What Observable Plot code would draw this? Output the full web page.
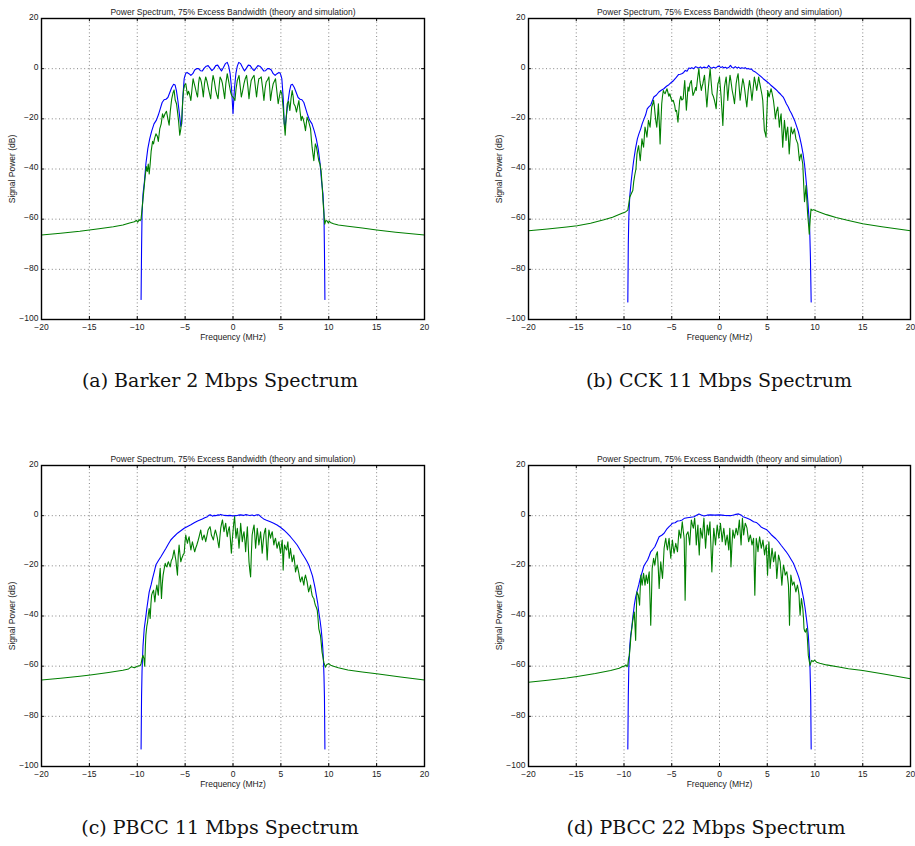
<!DOCTYPE html>
<html>
<head>
<meta charset="utf-8">
<script src="https://cdn.jsdelivr.net/npm/d3@7"></script>
<script src="https://cdn.jsdelivr.net/npm/@observablehq/plot@0.6"></script>
<style>
  html, body { margin: 0; padding: 0; background: #fff; }
  #page { position: relative; width: 915px; height: 846px; overflow: hidden; background: #fff; }
  .panel { position: absolute; }
  .caption { position: absolute; width: 420px; text-align: center; font-family: "DejaVu Serif", serif; font-size: 19px; line-height: 19px; color: #111; white-space: nowrap; }
</style>
</head>
<body>
<div id="page"></div>
<script>
// ---------- shared axis data ----------
const xTicks = [-20, -15, -10, -5, 0, 5, 10, 15, 20];
const yTicks = [-100, -80, -60, -40, -20, 0, 20];
const xDomain = [-20, 20];
const yDomain = [-100, 20];
const plotTitle = "Power Spectrum, 75% Excess Bandwidth (theory and simulation)";
const xLabel = "Frequency (MHz)";
const yLabel = "Signal Power (dB)";
const captions = ["(a) Barker 2 Mbps Spectrum", "(b) CCK 11 Mbps Spectrum", "(c) PBCC 11 Mbps Spectrum", "(d) PBCC 22 Mbps Spectrum"];

// ---------- (a) Barker 2 Mbps : [frequency MHz, dB] ----------
const barkerTheory = [[-9.6,-92],[-9.55,-72],[-9.5,-58],[-9.4,-50],[-9.25,-45],[-9.1,-38],[-8.9,-32],[-8.7,-28],[-8.5,-25],[-8.25,-22],[-8.0,-20.5],[-7.8,-18.5],[-7.6,-16],[-7.4,-13.5],[-7.2,-12.4],[-7.0,-12.2],[-6.8,-11.5],[-6.6,-9.5],[-6.4,-7.5],[-6.2,-6.2],[-6.05,-6.5],[-5.9,-9],[-5.75,-13],[-5.6,-18],[-5.45,-23],[-5.35,-22],[-5.25,-12],[-5.1,-4],[-4.95,-2],[-4.8,-1.5],[-4.6,-2],[-4.4,-2.7],[-4.2,-2],[-4.0,-0.5],[-3.8,0],[-3.6,0],[-3.4,-0.8],[-3.2,-0.9],[-3.0,0.2],[-2.8,1.0],[-2.6,1.2],[-2.4,0.2],[-2.2,-0.8],[-2.0,0],[-1.8,1.2],[-1.6,1.4],[-1.4,0.2],[-1.2,-0.9],[-1.0,0.5],[-0.8,2.0],[-0.6,2.5],[-0.45,1.0],[-0.3,-2],[-0.15,-8],[0,-18],[0.15,-8],[0.3,-2],[0.45,1.0],[0.6,2.5],[0.8,2.0],[1.0,0.5],[1.2,-0.9],[1.4,0.2],[1.6,1.4],[1.8,1.2],[2.0,0],[2.2,-0.8],[2.4,0.2],[2.6,1.2],[2.8,1.0],[3.0,0.2],[3.2,-0.9],[3.4,-0.8],[3.6,0],[3.8,0],[4.0,-0.5],[4.2,-2],[4.4,-2.7],[4.6,-2],[4.8,-1.5],[4.95,-2],[5.1,-4],[5.25,-12],[5.35,-22],[5.45,-23],[5.6,-18],[5.75,-13],[5.9,-9],[6.05,-6.5],[6.2,-6.2],[6.4,-7.5],[6.6,-9.5],[6.8,-11.5],[7.0,-12.2],[7.2,-12.4],[7.4,-13.5],[7.6,-16],[7.8,-18.5],[8.0,-20.5],[8.25,-22],[8.5,-25],[8.7,-28],[8.9,-32],[9.1,-38],[9.25,-45],[9.4,-50],[9.5,-58],[9.55,-72],[9.6,-92]];
const barkerSim = [[-20,-66.3],[-18,-65.6],[-16,-64.8],[-14,-63.8],[-12.5,-63],[-11.5,-62.3],[-10.8,-61.5],[-10.3,-61],[-10.1,-60.5],[-9.95,-61.2],[-9.8,-60.2],[-9.7,-60.6],[-9.6,-60],[-9.5,-56],[-9.35,-50],[-9.2,-44],[-9.05,-39],[-8.95,-41],[-8.85,-38],[-8.75,-42],[-8.65,-38],[-8.55,-33],[-8.4,-29],[-8.3,-30],[-8.2,-28],[-8.05,-26],[-7.9,-27],[-7.8,-29],[-7.65,-24],[-7.5,-22],[-7.36,-18],[-7.25,-19.5],[-7.1,-18],[-6.95,-17],[-6.8,-20],[-6.67,-22.5],[-6.55,-17],[-6.4,-12],[-6.25,-9.5],[-6.15,-8.5],[-6.04,-12.5],[-5.9,-14],[-5.8,-17],[-5.68,-21],[-5.56,-26.5],[-5.45,-24],[-5.35,-20],[-5.25,-13],[-5.17,-8.7],[-5.05,-6.5],[-4.93,-6],[-4.85,-8],[-4.76,-10.5],[-4.65,-9],[-4.55,-10],[-4.4,-12.7],[-4.28,-8],[-4.17,-4],[-4.05,-6],[-3.95,-7.5],[-3.8,-10],[-3.7,-11.3],[-3.6,-6],[-3.5,-3.3],[-3.4,-4],[-3.3,-5.5],[-3.2,-8],[-3.1,-11.3],[-2.98,-6],[-2.85,-3.3],[-2.72,-5],[-2.6,-7.3],[-2.45,-10],[-2.33,-12],[-2.2,-6],[-2.08,-2.7],[-1.95,-5],[-1.8,-8.7],[-1.68,-10.5],[-1.56,-12],[-1.45,-7],[-1.35,-3.3],[-1.2,-4.5],[-1.1,-6],[-0.98,-9],[-0.87,-12],[-0.75,-6],[-0.6,-2],[-0.48,-4.5],[-0.35,-7.3],[-0.24,-9.5],[-0.14,-10.7],[0,-11.3],[0.12,-12],[0.2,-12.7],[0.32,-8],[0.45,-4.7],[0.63,-2.7],[0.75,-7],[0.87,-11.3],[1.0,-9],[1.15,-6],[1.28,-4],[1.42,-2.7],[1.55,-7],[1.67,-12],[1.78,-8],[1.9,-4.7],[2.05,-3.5],[2.2,-2.7],[2.33,-7],[2.46,-11.3],[2.58,-7],[2.7,-4],[2.82,-3.8],[2.95,-3.3],[3.1,-8],[3.23,-12.7],[3.35,-8],[3.47,-5.3],[3.6,-4.5],[3.75,-3.3],[3.82,-7],[3.92,-12.7],[4.05,-9],[4.2,-6],[4.32,-5],[4.44,-4],[4.58,-9],[4.72,-14],[4.85,-11],[4.97,-8.7],[5.1,-10],[5.25,-16],[5.35,-22],[5.45,-26.5],[5.55,-20],[5.66,-14],[5.8,-13],[5.94,-16.7],[6.06,-12],[6.18,-8.7],[6.28,-11],[6.35,-14],[6.5,-15],[6.63,-17.3],[6.75,-15],[6.88,-12.7],[7.0,-17],[7.12,-20.7],[7.22,-19],[7.33,-20],[7.45,-22],[7.57,-24.7],[7.65,-22],[7.74,-19.3],[7.9,-21],[8.0,-22.5],[8.1,-24],[8.18,-28],[8.26,-31.3],[8.35,-34],[8.44,-36.7],[8.52,-33],[8.6,-30],[8.7,-31],[8.78,-32.7],[8.88,-35],[8.96,-36.7],[9.08,-38],[9.2,-40.7],[9.3,-46],[9.4,-52.7],[9.5,-58],[9.58,-62],[9.7,-60.5],[9.83,-60.7],[9.95,-61.5],[10.05,-60.8],[10.17,-61.3],[10.5,-61.8],[11,-62.3],[12,-62.8],[13.5,-63.5],[15,-64.3],[17,-65.2],[20,-66.3]];

// ---------- (b) CCK 11 Mbps ----------
const cckTheory = [[-9.6,-93],[-9.55,-70],[-9.5,-60],[-9.4,-51],[-9.25,-45],[-9.13,-41],[-9.0,-37],[-8.8,-32],[-8.6,-28],[-8.44,-26],[-8.25,-24],[-8.1,-22],[-7.9,-20],[-7.74,-18.5],[-7.57,-16],[-7.4,-15.2],[-7.2,-14.5],[-7.0,-12.5],[-6.88,-11.3],[-6.6,-10.5],[-6.35,-9.3],[-6.1,-8.6],[-5.83,-8],[-5.55,-7],[-5.3,-6.4],[-5.05,-5.5],[-4.8,-4.7],[-4.55,-3.6],[-4.27,-2.3],[-4.1,-2.2],[-3.9,-1.9],[-3.75,-1.5],[-3.58,-0.7],[-3.4,-1.0],[-3.2,0.3],[-3.05,0.1],[-2.9,0.4],[-2.7,0.0],[-2.5,0.8],[-2.3,0.5],[-2.15,0.3],[-2.0,0.7],[-1.85,0.2],[-1.65,0.6],[-1.5,0.5],[-1.3,0.3],[-1.15,1.3],[-1.0,0.6],[-0.85,0.2],[-0.6,0.6],[-0.45,0.3],[-0.3,0.5],[-0.15,1.0],[0,0.9],[0.15,0.4],[0.3,0.8],[0.45,0.3],[0.6,0.6],[0.8,0.2],[1.0,0.6],[1.15,1.3],[1.3,0.5],[1.5,0.3],[1.65,0.8],[1.85,0.2],[2.0,0.6],[2.15,0.1],[2.35,0.4],[2.5,0.2],[2.7,0.4],[2.85,-0.1],[3.0,0.1],[3.2,-0.2],[3.35,-0.2],[3.5,-0.8],[3.7,-1.2],[3.9,-1.8],[4.06,-2.3],[4.3,-3],[4.58,-4],[4.85,-4.8],[5.1,-5.6],[5.35,-6.5],[5.6,-7.3],[5.9,-8.3],[6.15,-9.3],[6.4,-10.2],[6.67,-11.3],[6.85,-12.7],[7.0,-14],[7.2,-15.3],[7.36,-16.7],[7.55,-18],[7.7,-19.3],[7.9,-21],[8.05,-22.7],[8.25,-25],[8.4,-27.3],[8.58,-30.5],[8.75,-34],[8.9,-38],[9.03,-43],[9.15,-48],[9.27,-54],[9.38,-60],[9.45,-65],[9.52,-75],[9.6,-93]];
const cckSim = [[-20,-64.6],[-18,-63.9],[-16,-63.1],[-14.9,-62.6],[-13.5,-61.6],[-12.1,-60.2],[-11.2,-59.2],[-10.7,-58.4],[-10.2,-57.6],[-9.84,-57.1],[-9.6,-56.4],[-9.5,-54],[-9.4,-51.3],[-9.25,-50],[-9.08,-48.6],[-8.98,-45],[-8.88,-42.6],[-8.75,-40],[-8.64,-34],[-8.55,-32],[-8.47,-30.7],[-8.38,-34],[-8.3,-36.7],[-8.2,-32],[-8.12,-28],[-8.03,-30],[-7.95,-31.3],[-7.87,-27],[-7.8,-23.3],[-7.7,-25],[-7.6,-27.3],[-7.52,-24],[-7.44,-20.6],[-7.35,-22],[-7.27,-23.3],[-7.18,-19],[-7.1,-15.3],[-6.98,-14],[-6.9,-12.6],[-6.82,-15],[-6.75,-18],[-6.66,-21],[-6.57,-23.3],[-6.48,-19],[-6.4,-14],[-6.3,-22],[-6.22,-30],[-6.14,-22],[-6.05,-14],[-5.97,-11],[-5.88,-8.7],[-5.8,-9.5],[-5.7,-10],[-5.6,-9],[-5.5,-8],[-5.4,-9.5],[-5.3,-11],[-5.2,-10],[-5.1,-11.5],[-4.97,-13],[-4.85,-12.6],[-4.7,-14.5],[-4.6,-17],[-4.5,-16.6],[-4.42,-19],[-4.35,-21.3],[-4.26,-17],[-4.17,-12.7],[-4.05,-11],[-3.95,-12.5],[-3.8,-12],[-3.72,-8],[-3.64,-4.7],[-3.55,-11],[-3.47,-16.6],[-3.38,-12],[-3.3,-7.3],[-3.2,-9],[-3.1,-6],[-2.95,-4.7],[-2.86,-8],[-2.78,-10.7],[-2.6,-9],[-2.5,-7.5],[-2.43,-8.7],[-2.3,-4],[-2.16,0],[-2.05,-5],[-1.9,-8.7],[-1.82,-7],[-1.74,-6],[-1.65,-4],[-1.57,-2.6],[-1.45,-9],[-1.32,-15.3],[-1.2,-9],[-1.1,-4.7],[-0.98,0],[-0.88,-5],[-0.77,-10],[-0.65,-11],[-0.53,-12.6],[-0.45,-14],[-0.35,-16],[-0.26,-10],[-0.17,-6],[-0.08,-5],[0,-3.3],[0.08,-7],[0.17,-11.3],[0.26,-17],[0.35,-22.6],[0.44,-14],[0.52,-7.3],[0.62,-5],[0.7,-3.3],[0.79,-8],[0.87,-12.7],[0.98,-7],[1.1,-2.6],[1.2,-5],[1.33,-8.7],[1.45,-11],[1.57,-14],[1.66,-10],[1.74,-6],[1.85,-3.5],[1.95,-2],[2.05,-7],[2.16,-12.6],[2.3,-8],[2.44,-4],[2.55,-6],[2.65,-8.7],[2.75,-12],[2.86,-15.3],[3.0,-9],[3.14,-4.7],[3.27,-8],[3.4,-12.7],[3.52,-8],[3.65,-3.3],[3.78,-6],[3.9,-8.7],[4.0,-6],[4.1,-3.3],[4.22,-6],[4.36,-8.7],[4.45,-10.5],[4.53,-12.7],[4.62,-19],[4.7,-24.6],[4.8,-26],[4.87,-27.3],[4.96,-18],[5.05,-8.7],[5.12,-10],[5.2,-11.3],[5.3,-9.5],[5.4,-8],[5.52,-10],[5.65,-12.7],[5.75,-16],[5.85,-20],[5.97,-17],[6.1,-15.3],[6.18,-19],[6.27,-23.3],[6.36,-20],[6.45,-18],[6.54,-25],[6.62,-31.3],[6.7,-26],[6.8,-20.6],[6.88,-24],[6.97,-28.6],[7.05,-25],[7.14,-23.3],[7.22,-28],[7.3,-34],[7.4,-28],[7.5,-23.3],[7.58,-25],[7.67,-26],[7.75,-25],[7.84,-24],[7.92,-26],[8.0,-28],[8.1,-29],[8.2,-30],[8.28,-33],[8.37,-36.7],[8.46,-35],[8.55,-34],[8.63,-36],[8.72,-38],[8.8,-45],[8.9,-53],[8.98,-50],[9.06,-46.6],[9.14,-52],[9.23,-58],[9.32,-62],[9.4,-66],[9.5,-60],[9.58,-56],[9.7,-56.5],[9.85,-56.2],[10.1,-56.6],[10.5,-57.2],[11.2,-58.2],[12.2,-59.3],[13.5,-60.5],[15,-61.8],[17,-63],[20,-64.6]];

// ---------- (c) PBCC 11 Mbps ----------
const pbcc11Theory = [[-9.6,-93],[-9.55,-72],[-9.5,-62],[-9.4,-52],[-9.27,-45],[-9.13,-41],[-9.0,-37],[-8.85,-33],[-8.75,-30.4],[-8.55,-27.5],[-8.4,-25],[-8.2,-22],[-8.06,-19.7],[-7.8,-18],[-7.53,-16.4],[-7.25,-14.6],[-7.0,-13],[-6.75,-11.3],[-6.5,-9.7],[-6.15,-8.3],[-5.8,-7],[-5.45,-6],[-5.1,-5],[-4.75,-4.3],[-4.4,-3.6],[-4.05,-2.8],[-3.7,-2.1],[-3.45,-1.7],[-3.2,-1.3],[-2.95,-0.8],[-2.67,-0.4],[-2.5,0.2],[-2.33,0.3],[-2.15,-0.2],[-2.0,0.1],[-1.8,0],[-1.6,0.3],[-1.4,0.2],[-1.3,0.5],[-1.1,0.3],[-0.9,0.1],[-0.6,0],[-0.3,0.1],[0,-0.1],[0.3,0],[0.55,0.2],[0.8,0.3],[1.1,0.1],[1.3,0.4],[1.5,0.3],[1.75,0.1],[2.0,0.3],[2.2,0],[2.45,0.3],[2.7,0.3],[2.95,-0.6],[3.2,-1.3],[3.5,-1.8],[3.9,-2.4],[4.25,-3],[4.6,-3.7],[4.95,-4.6],[5.3,-5.7],[5.65,-7],[6.0,-8.4],[6.35,-10],[6.7,-11.7],[6.95,-13.3],[7.2,-15],[7.5,-16.8],[7.74,-18.4],[7.95,-20],[8.1,-21.7],[8.3,-24],[8.44,-26.4],[8.58,-29],[8.7,-31.7],[8.85,-35],[8.96,-38.4],[9.1,-42],[9.2,-45],[9.3,-49],[9.38,-53],[9.45,-58],[9.5,-63.7],[9.55,-72],[9.6,-93]];
const pbcc11Sim = [[-20,-65.5],[-18,-64.8],[-16,-64],[-14.9,-63.5],[-13,-62.5],[-11.5,-61.6],[-10.9,-61.1],[-10.6,-60.2],[-10.3,-60.6],[-10,-60],[-9.7,-59.8],[-9.6,-59],[-9.5,-57],[-9.4,-55.7],[-9.3,-57],[-9.22,-60],[-9.15,-52],[-9.1,-47.7],[-9.0,-44],[-8.92,-42.4],[-8.83,-39],[-8.75,-37],[-8.65,-41],[-8.57,-35],[-8.5,-31.7],[-8.4,-30.5],[-8.3,-29.7],[-8.23,-32],[-8.16,-34.4],[-8.05,-30],[-7.95,-27.7],[-7.87,-30],[-7.8,-31.7],[-7.7,-25],[-7.6,-21],[-7.53,-28],[-7.47,-33],[-7.38,-27],[-7.3,-23.7],[-7.18,-21],[-7.08,-19],[-7.0,-20],[-6.9,-20.4],[-6.82,-19],[-6.74,-18.4],[-6.65,-19.5],[-6.56,-20.4],[-6.45,-18],[-6.32,-17],[-6.22,-15],[-6.15,-13.7],[-6.05,-16],[-5.97,-17.7],[-5.88,-21],[-5.8,-23.7],[-5.72,-16],[-5.63,-11.7],[-5.55,-15],[-5.45,-18.4],[-5.35,-17],[-5.28,-16.4],[-5.2,-15.5],[-5.1,-15],[-5.0,-10],[-4.93,-7.7],[-4.85,-9.5],[-4.76,-11],[-4.67,-9.5],[-4.58,-8.4],[-4.5,-11],[-4.4,-13.7],[-4.32,-12],[-4.24,-10.4],[-4.12,-12.5],[-4.0,-14.4],[-3.9,-13],[-3.78,-11.7],[-3.65,-10],[-3.54,-8.4],[-3.45,-7],[-3.37,-5.7],[-3.28,-8],[-3.2,-9.7],[-3.1,-8.5],[-3.02,-7.7],[-2.93,-9],[-2.85,-10.4],[-2.72,-8],[-2.6,-5.7],[-2.5,-5],[-2.4,-4.4],[-2.32,-6],[-2.26,-7.7],[-2.15,-8.7],[-2.05,-9.7],[-1.95,-7.5],[-1.84,-5.7],[-1.72,-7.5],[-1.63,-9],[-1.55,-11],[-1.46,-12.8],[-1.37,-8.5],[-1.28,-5],[-1.18,-3],[-1.1,-1.7],[-1.02,-4],[-0.94,-6.4],[-0.85,-4.5],[-0.76,-3],[-0.68,-6],[-0.6,-8.4],[-0.5,-6],[-0.38,-4.4],[-0.28,-9],[-0.17,-15],[-0.08,-10],[0,-6.4],[0.08,-3],[0.17,-0.4],[0.24,-5],[0.31,-9],[0.38,-7],[0.45,-5],[0.55,-9],[0.63,-13],[0.72,-8],[0.8,-3],[0.88,-6.5],[0.97,-10.4],[1.06,-8],[1.15,-6.4],[1.24,-10],[1.32,-14.4],[1.41,-9],[1.5,-4.4],[1.58,-11],[1.67,-18.4],[1.76,-22],[1.84,-24.4],[1.92,-15],[2.0,-7.7],[2.1,-5.5],[2.2,-3.7],[2.28,-8],[2.36,-13],[2.45,-9],[2.53,-5],[2.62,-8],[2.7,-11.7],[2.8,-9],[2.88,-6.4],[2.96,-10],[3.05,-15],[3.14,-11],[3.23,-7.7],[3.32,-6],[3.4,-5],[3.48,-11],[3.57,-17.7],[3.66,-11],[3.75,-5.7],[3.84,-7.5],[3.92,-9],[4.0,-7.5],[4.1,-6.4],[4.18,-9],[4.27,-11.7],[4.35,-10],[4.44,-9],[4.52,-11],[4.6,-13],[4.7,-11.5],[4.8,-10.4],[4.88,-13],[4.97,-15],[5.05,-12],[5.14,-9.7],[5.2,-16],[5.24,-21.7],[5.3,-16],[5.38,-11.7],[5.5,-13],[5.6,-13.7],[5.66,-12],[5.73,-10.4],[5.8,-14],[5.87,-17],[5.94,-15],[6.0,-13],[6.1,-16],[6.18,-18.4],[6.27,-17],[6.35,-15.7],[6.45,-19],[6.53,-22.4],[6.62,-21],[6.7,-19.7],[6.8,-21.5],[6.88,-23],[6.96,-25],[7.05,-26.4],[7.14,-25],[7.22,-24.4],[7.3,-26],[7.4,-27.7],[7.48,-25],[7.57,-23.7],[7.65,-25],[7.74,-26.4],[7.82,-28.5],[7.9,-30.4],[8.0,-29],[8.1,-27.7],[8.18,-30],[8.26,-31.7],[8.35,-32.5],[8.44,-33],[8.52,-34.5],[8.6,-35.7],[8.7,-36.5],[8.8,-37.7],[8.88,-41],[8.96,-45],[9.05,-46.5],[9.13,-47.7],[9.22,-51],[9.3,-54.4],[9.4,-56.5],[9.48,-58.4],[9.57,-59.5],[9.65,-60.4],[9.75,-59.6],[9.85,-59.2],[10.0,-59],[10.2,-59.6],[10.5,-60],[11,-60.6],[12,-61.5],[13.5,-62.3],[15,-63],[17.5,-64.3],[20,-65.5]];

// ---------- (d) PBCC 22 Mbps ----------
const pbcc22Theory = [[-9.6,-93],[-9.55,-72],[-9.5,-61],[-9.4,-52],[-9.3,-47.7],[-9.2,-45],[-9.06,-40],[-8.92,-35.7],[-8.78,-32.5],[-8.65,-30.4],[-8.45,-27.5],[-8.3,-25],[-8.1,-22.5],[-7.95,-20.4],[-7.75,-19],[-7.53,-17.7],[-7.35,-16],[-7.2,-14.4],[-7.0,-13.5],[-6.77,-12.4],[-6.55,-10.5],[-6.32,-8.4],[-6.05,-7.8],[-5.8,-7],[-5.55,-5.5],[-5.28,-4.4],[-5.1,-3.8],[-4.93,-3],[-4.65,-2.8],[-4.4,-2.1],[-4.15,-2],[-3.9,-1.7],[-3.65,-1],[-3.37,-0.8],[-3.0,-0.6],[-2.67,-0.4],[-2.4,0.2],[-2.15,0.7],[-1.9,0.3],[-1.63,-0.1],[-1.3,0.2],[-0.94,0.3],[-0.5,0.2],[0,0.3],[0.5,0.1],[1.15,0],[1.6,0.4],[2.0,0.7],[2.25,0.3],[2.46,-0.4],[2.7,-0.7],[2.9,-1],[3.2,-1.5],[3.57,-2.4],[3.85,-2.7],[4.1,-3.5],[4.35,-4.5],[4.6,-5],[4.9,-5.5],[5.14,-6.4],[5.4,-7.5],[5.66,-8.4],[5.9,-9.2],[6.18,-10.4],[6.45,-11.8],[6.7,-13],[6.95,-14.2],[7.22,-15.7],[7.5,-17.5],[7.74,-19],[7.95,-21],[8.1,-22.4],[8.3,-24.5],[8.44,-26.4],[8.62,-29.5],[8.8,-33],[8.95,-36.5],[9.06,-39.7],[9.2,-44],[9.3,-47.7],[9.4,-54],[9.48,-61],[9.55,-72],[9.6,-93]];
const pbcc22Sim = [[-20,-66.4],[-18,-65.6],[-16,-64.7],[-14.9,-64.1],[-13,-62.9],[-11.4,-61.7],[-10.5,-60.8],[-10.2,-60.2],[-10,-60.1],[-9.8,-59.5],[-9.68,-60.2],[-9.6,-59.6],[-9.52,-57],[-9.44,-55.7],[-9.35,-52],[-9.27,-47.7],[-9.18,-45],[-9.1,-42.4],[-9.0,-40],[-8.92,-38.4],[-8.85,-44],[-8.78,-49.7],[-8.72,-40],[-8.65,-30.4],[-8.57,-31],[-8.5,-31.7],[-8.44,-33.5],[-8.37,-35.7],[-8.3,-29],[-8.23,-23.7],[-8.16,-26],[-8.1,-27.7],[-8.02,-25],[-7.95,-23],[-7.87,-25.5],[-7.8,-27.7],[-7.73,-25.5],[-7.67,-23.7],[-7.6,-25.5],[-7.53,-27],[-7.45,-24.5],[-7.36,-22.4],[-7.28,-33],[-7.2,-43.7],[-7.12,-32],[-7.05,-21],[-6.97,-19],[-6.9,-17],[-6.83,-18.5],[-6.77,-19.7],[-6.7,-17.5],[-6.63,-15.7],[-6.56,-15],[-6.5,-14.4],[-6.4,-22],[-6.32,-29],[-6.23,-23],[-6.15,-18.4],[-6.06,-22],[-5.97,-25],[-5.88,-19],[-5.8,-13],[-5.72,-11],[-5.63,-9],[-5.55,-11.5],[-5.45,-13.7],[-5.36,-11],[-5.28,-9],[-5.2,-13],[-5.1,-17],[-5.02,-13],[-4.93,-9.7],[-4.85,-12.5],[-4.76,-15],[-4.67,-13],[-4.58,-11],[-4.5,-12.5],[-4.4,-14.4],[-4.32,-10],[-4.24,-5.7],[-4.15,-7.5],[-4.06,-9],[-3.98,-5.5],[-3.9,-2.4],[-3.8,-6],[-3.7,-9],[-3.65,-20],[-3.6,-33.7],[-3.53,-20],[-3.47,-7.7],[-3.38,-7],[-3.3,-6.4],[-3.2,-9],[-3.12,-11.7],[-3.03,-6],[-2.95,-1.7],[-2.85,-3.5],[-2.74,-5],[-2.67,-3],[-2.6,-1],[-2.5,-6],[-2.43,-11.7],[-2.35,-7.5],[-2.26,-3.7],[-2.2,-10],[-2.12,-15.7],[-2.05,-10],[-2.0,-5],[-1.9,-7],[-1.8,-9],[-1.72,-5],[-1.63,-1],[-1.55,-7],[-1.46,-13],[-1.37,-8],[-1.28,-3.7],[-1.2,-5.7],[-1.15,-7.7],[-1.07,-5],[-1.0,-2.4],[-0.9,-12],[-0.8,-22.4],[-0.7,-13],[-0.6,-5],[-0.5,-8.5],[-0.42,-11.7],[-0.33,-7.5],[-0.24,-3.7],[-0.15,-6.5],[-0.07,-9],[0.02,-6],[0.1,-3],[0.2,-7],[0.28,-10.4],[0.36,-7.5],[0.45,-5],[0.55,-8.5],[0.63,-11.7],[0.72,-9.5],[0.8,-7.7],[0.9,-11],[0.97,-13.7],[1.03,-9],[1.08,-5],[1.14,-12],[1.2,-20.4],[1.3,-12],[1.4,-5.7],[1.48,-7.5],[1.56,-9],[1.65,-7],[1.74,-5],[1.82,-6.5],[1.9,-7.7],[2.0,-4.5],[2.08,-1.7],[2.17,-7],[2.26,-11.7],[2.33,-6],[2.4,-1],[2.47,-4.5],[2.53,-7.7],[2.62,-5],[2.7,-3],[2.8,-4],[2.88,-5],[2.96,-7.5],[3.05,-10.4],[3.14,-9],[3.23,-7.7],[3.32,-9.5],[3.4,-11.7],[3.48,-10.4],[3.57,-9],[3.63,-20],[3.7,-31.7],[3.77,-20],[3.85,-9],[3.95,-11.5],[4.03,-14.4],[4.12,-11],[4.2,-8.4],[4.28,-10.5],[4.37,-13],[4.46,-11.5],[4.55,-9.7],[4.63,-12.5],[4.72,-15.7],[4.8,-13.5],[4.9,-11.7],[4.97,-18],[5.03,-23.7],[5.1,-17],[5.17,-10.4],[5.24,-15],[5.3,-21],[5.4,-17],[5.5,-13],[5.58,-15.5],[5.66,-18.4],[5.75,-16.5],[5.83,-14.4],[5.92,-19],[6.0,-25],[6.1,-20],[6.18,-15.7],[6.27,-17],[6.35,-18.4],[6.44,-23],[6.53,-27.7],[6.62,-23],[6.7,-19.7],[6.8,-21.5],[6.88,-23.7],[6.97,-23],[7.05,-22.4],[7.14,-25],[7.22,-27.7],[7.28,-35],[7.33,-43.7],[7.4,-33],[7.47,-23.7],[7.55,-25.5],[7.64,-27.7],[7.72,-27],[7.8,-26.4],[7.9,-28.5],[8.0,-30.4],[8.08,-29],[8.16,-27.7],[8.25,-29.5],[8.33,-31.7],[8.38,-36],[8.44,-39.7],[8.51,-36],[8.58,-33],[8.65,-35],[8.72,-37],[8.8,-41],[8.85,-45],[8.92,-46],[9.0,-46.4],[9.07,-45.5],[9.13,-45],[9.22,-50],[9.3,-55.7],[9.4,-58],[9.48,-59.7],[9.57,-58.5],[9.65,-57.7],[9.8,-58.2],[9.95,-57.6],[10.17,-58.4],[10.5,-58.8],[11.2,-59.5],[12.5,-60.3],[13.5,-61],[15,-61.7],[17.5,-63.3],[20,-65]];

// ---------- layout ----------
const panels = [
  {theory: barkerTheory, sim: barkerSim, left: 0,   top: 0,   width: 440, mr: 16, caption: captions[0], capX: 220, capY: 371},
  {theory: cckTheory,    sim: cckSim,    left: 487, top: 0,   width: 428, mr: 5,  caption: captions[1], capX: 719, capY: 371},
  {theory: pbcc11Theory, sim: pbcc11Sim, left: 0,   top: 447, width: 440, mr: 16, caption: captions[2], capX: 220, capY: 818},
  {theory: pbcc22Theory, sim: pbcc22Sim, left: 487, top: 447, width: 428, mr: 5,  caption: captions[3], capX: 706, capY: 818}
];

const page = document.getElementById("page");
const gridStyle = {stroke: "#666", strokeWidth: 0.8, strokeDasharray: "1,2.6"};
const tickLenY = (yDomain[1] - yDomain[0]) * 0.01;
const tickLenX = (xDomain[1] - xDomain[0]) * 0.0075;

for (const p of panels) {
  const chart = Plot.plot({
    width: p.width,
    height: 347,
    marginLeft: 41,
    marginRight: p.mr,
    marginTop: 18,
    marginBottom: 28,
    x: {domain: xDomain},
    y: {domain: yDomain},
    style: {fontFamily: "'Liberation Sans', Arial, sans-serif", fontSize: "8.5px", color: "#222", background: "white", overflow: "visible"},
    marks: [
      Plot.ruleX(xTicks, gridStyle),
      Plot.ruleY(yTicks, gridStyle),
      Plot.ruleX(xTicks, {y1: yDomain[0], y2: yDomain[0] + tickLenY, stroke: "black"}),
      Plot.ruleX(xTicks, {y1: yDomain[1], y2: yDomain[1] - tickLenY, stroke: "black"}),
      Plot.ruleY(yTicks, {x1: xDomain[0], x2: xDomain[0] + tickLenX, stroke: "black"}),
      Plot.ruleY(yTicks, {x1: xDomain[1], x2: xDomain[1] - tickLenX, stroke: "black"}),
      Plot.line(p.theory, {stroke: "#0000ff", strokeWidth: 1.1}),
      Plot.line(p.sim, {stroke: "#007f00", strokeWidth: 1.1}),
      Plot.frame({stroke: "black", strokeWidth: 1.4}),
      Plot.axisX({ticks: xTicks, tickSize: 0, tickPadding: 4, label: null, fontSize: 8.5}),
      Plot.axisY({ticks: yTicks, tickSize: 0, tickPadding: 3, dy: -1.5, label: null, fontSize: 8.5}),
      Plot.text([plotTitle], {frameAnchor: "top", dy: -10, fontSize: 8.5, fill: "#222"}),
      Plot.text([xLabel], {frameAnchor: "bottom", dy: 20.5, fontSize: 8.5, fill: "#222"}),
      Plot.text([yLabel], {frameAnchor: "left", dx: -29, rotate: -90, textAnchor: "middle", fontSize: 8.5, fill: "#222"})
    ]
  });
  const wrap = document.createElement("div");
  wrap.className = "panel";
  wrap.style.left = p.left + "px";
  wrap.style.top = p.top + "px";
  wrap.appendChild(chart);
  page.appendChild(wrap);

  const cap = document.createElement("div");
  cap.className = "caption";
  cap.textContent = p.caption;
  cap.style.left = (p.capX - 210) + "px";
  cap.style.top = p.capY + "px";
  page.appendChild(cap);
}
</script>
</body>
</html>
